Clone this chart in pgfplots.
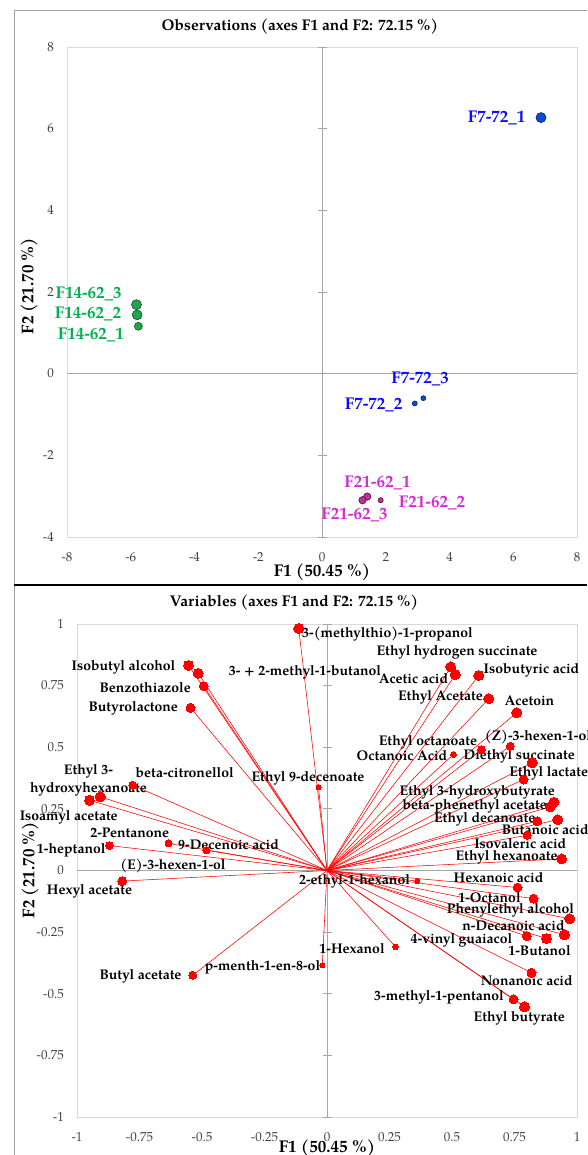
\documentclass[border=0pt]{standalone}
\usepackage{fontspec}
\setmainfont{TeX Gyre Pagella}
\usepackage{pgfplots}
\pgfplotsset{compat=1.18}
\usepackage{pgfplotstable}
\definecolor{framegray}{HTML}{D9D9D9}
\definecolor{zerogray}{HTML}{A6A6A6}
\definecolor{outergray}{HTML}{A0A0A0}
\definecolor{ticktext}{HTML}{404040}
\definecolor{gtext}{HTML}{00B050}
\definecolor{gfill}{HTML}{1FA64A}
\definecolor{gdraw}{HTML}{1A4D2A}
\definecolor{btext}{HTML}{0A0AFF}
\definecolor{bfill}{HTML}{0A4CD8}
\definecolor{bdraw}{HTML}{00206A}
\definecolor{mtext}{HTML}{D42AD4}
\definecolor{mfill}{HTML}{C0309A}
\definecolor{mdraw}{HTML}{501040}

% observations: x y r
\pgfplotstableread{
x y r
6.87 6.27 5.0
3.18 -0.60 2.5
2.91 -0.73 2.5
}\obsblue
\pgfplotstableread{
x y r
-5.82 1.69 5.0
-5.80 1.44 5.0
-5.76 1.16 4.0
}\obsgreen
\pgfplotstableread{
x y r
1.42 -3.01 3.7
1.27 -3.10 3.7
1.84 -3.10 2.6
}\obsmag

% variables: x y r
\pgfplotstableread{
x y r
-0.113 0.982 5
0.495 0.826 5
0.513 0.795 5
0.607 0.791 5
0.647 0.697 5
0.759 0.640 5
0.618 0.490 4
0.506 0.471 3
0.733 0.504 4
0.821 0.437 5
0.786 0.369 4.5
0.908 0.277 5
0.893 0.258 5
0.841 0.200 4.5
0.923 0.206 5
0.801 0.143 4
0.939 0.047 5
0.762 -0.069 4.5
0.361 -0.043 2.5
0.826 -0.114 4.5
0.971 -0.196 5
0.950 -0.261 5
0.799 -0.266 4.5
0.878 -0.276 5
0.818 -0.415 4.5
0.746 -0.523 4.5
0.790 -0.553 5
0.274 -0.310 2.8
-0.019 -0.385 2.5
-0.819 -0.043 4.5
-0.537 -0.425 4
-0.554 0.832 5
-0.515 0.800 5
-0.493 0.748 4.5
-0.546 0.660 4.5
-0.777 0.346 4
-0.950 0.285 5
-0.907 0.299 5
-0.634 0.110 3.5
-0.483 0.082 3.5
-0.870 0.101 4
-0.034 0.338 2.5
}\vars

\pgfplotsset{
  pcaaxis/.style={
    scale only axis, anchor=south west, clip=false,
    axis line style={framegray, line width=0.8pt},
    major tick length=0pt,
    tick label style={font=\fontsize{13}{15}\selectfont, text=ticktext, inner sep=0pt},
    yticklabel style={anchor=east, xshift=-13pt},
    xticklabel style={anchor=north, yshift=-15pt},
  },
  obsmarks/.style n args={2}{scatter, only marks, mark=*,
    scatter/use mapped color={draw=#2, fill=#1},
    mark options={line width=0.6pt},
    visualization depends on={\thisrow{r} \as \rr},
    scatter/@pre marker code/.append style={/tikz/mark size=\rr pt}},
}
\tikzset{
  olab/.style={font=\bfseries\fontsize{17}{19}\selectfont, inner sep=0pt},
  vlab/.style={font=\bfseries\fontsize{14}{16}\selectfont, inner sep=0pt, text=black},
  ttl/.style={font=\bfseries\fontsize{15.5}{18}\selectfont},
  alab/.style={font=\bfseries\fontsize{17}{19}\selectfont},
}

\begin{document}
\begin{tikzpicture}
\path[use as bounding box] (0pt,0pt) rectangle (587pt,1155pt);
% outer chart borders
\draw[outergray, line width=0.8pt] (14pt,0pt) -- (14pt,1145pt) -- (587pt,1145pt);
\draw[black, line width=2pt] (14pt,570pt) -- (587pt,570pt);

% ---------- Observations ----------
\begin{axis}[pcaaxis, at={(67pt,618pt)}, width=510pt, height=490pt,
  xmin=-8, xmax=8, ymin=-4, ymax=8,
  xtick={-8,-6,-4,-2,0,2,4,6,8}, xticklabels={-8,-6,-4,-2,0,2,4,6,8},
  ytick={-4,-2,0,2,4,6,8}, yticklabels={-4,-2,0,2,4,6,8}]
\draw[zerogray, line width=0.8pt] (axis cs:0,-4) -- (axis cs:0,8);
\draw[zerogray, line width=0.8pt] (axis cs:-8,0) -- (axis cs:8,0);
\pgfplotsinvokeforeach{-4,-2,2,4,6,8}{\draw[zerogray, line width=0.8pt] ([xshift=-4.5pt]axis cs:0,#1) -- ([xshift=4.5pt]axis cs:0,#1);}
\addplot[obsmarks={bfill}{bdraw}] table[x=x,y=y] {\obsblue};
\addplot[obsmarks={gfill}{gdraw}] table[x=x,y=y] {\obsgreen};
\addplot[obsmarks={mfill}{mdraw}] table[x=x,y=y] {\obsmag};
\node[olab, text=btext] at (axis cs:5.48,6.27) {F7-72\_1};
\node[olab, text=btext] at (axis cs:3.08,-0.14) {F7-72\_3};
\node[olab, text=btext] at (axis cs:1.62,-0.76) {F7-72\_2};
\node[olab, text=gtext] at (axis cs:-7.32,1.94) {F14-62\_3};
\node[olab, text=gtext] at (axis cs:-7.34,1.46) {F14-62\_2};
\node[olab, text=gtext] at (axis cs:-7.25,0.94) {F14-62\_1};
\node[olab, text=mtext] at (axis cs:1.74,-2.67) {F21-62\_1};
\node[olab, text=mtext] at (axis cs:3.45,-3.17) {F21-62\_2};
\node[olab, text=mtext] at (axis cs:1.02,-3.45) {F21-62\_3};
\end{axis}
\node[ttl] at (300pt,1128pt) {Observations (axes F1 and F2: 72.15 \%)};
\node[alab] at (322pt,583pt) {F1 (50.45 \%)};
\node[alab, rotate=90] at (29pt,869pt) {F2 (21.70 \%)};

% ---------- Variables ----------
\begin{axis}[pcaaxis, at={(77pt,38pt)}, width=500pt, height=493pt,
  xmin=-1, xmax=1, ymin=-1, ymax=1,
  xtick={-1,-0.75,-0.5,-0.25,0,0.25,0.5,0.75,1},
  xticklabels={-1,-0.75,-0.5,-0.25,0,0.25,0.5,0.75,1},
  ytick={-1,-0.75,-0.5,-0.25,0,0.25,0.5,0.75,1},
  yticklabels={-1,-0.75,-0.5,-0.25,0,0.25,0.5,0.75,1}]
\draw[zerogray, line width=0.8pt] (axis cs:0,-1) -- (axis cs:0,1);
\draw[zerogray, line width=0.8pt] (axis cs:-1,0) -- (axis cs:1,0);
\pgfplotsinvokeforeach{-1,-0.75,-0.5,-0.25,0.25,0.5,0.75,1}{\draw[zerogray, line width=0.8pt] ([xshift=-4.5pt]axis cs:0,#1) -- ([xshift=4.5pt]axis cs:0,#1);}
\addplot[red, line width=0.55pt, quiver={u=\thisrow{x}, v=\thisrow{y}}] table[x expr=0, y expr=0] {\vars};
\addplot[obsmarks={red}{red}, mark options={line width=0pt}] table[x=x,y=y] {\vars};
\node[vlab] at (axis cs:0.242,0.957) {3-(methylthio)-1-propanol};
\node[vlab] at (axis cs:0.520,0.887) {Ethyl hydrogen succinate};
\node[vlab] at (axis cs:0.346,0.778) {Acetic acid};
\node[vlab] at (axis cs:0.818,0.814) {Isobutyric acid};
\node[vlab] at (axis cs:0.454,0.702) {Ethyl Acetate};
\node[vlab] at (axis cs:0.810,0.688) {Acetoin};
\node[vlab] at (axis cs:0.404,0.518) {Ethyl octanoate};
\node[vlab] at (axis cs:0.300,0.465) {Octanoic Acid};
\node[vlab] at (axis cs:0.844,0.542) {(Z)-3-hexen-1-ol};
\node[vlab] at (axis cs:0.769,0.465) {Diethyl succinate};
\node[vlab] at (axis cs:0.887,0.396) {Ethyl lactate};
\node[vlab] at (axis cs:0.601,0.319) {Ethyl 3-hydroxybutyrate};
\node[vlab] at (axis cs:0.591,0.262) {beta-phenethyl acetate};
\node[vlab] at (axis cs:0.631,0.209) {Ethyl decanoate};
\node[vlab] at (axis cs:0.873,0.165) {Butanoic acid};
\node[vlab] at (axis cs:0.773,0.109) {Isovaleric acid};
\node[vlab] at (axis cs:0.718,0.052) {Ethyl hexanoate};
\node[vlab] at (axis cs:0.686,-0.030) {Hexanoic acid};
\node[vlab] at (axis cs:0.110,-0.045) {2-ethyl-1-hexanol};
\node[vlab] at (axis cs:0.650,-0.110) {1-Octanol};
\node[vlab] at (axis cs:0.734,-0.163) {Phenylethyl alcohol};
\node[vlab] at (axis cs:0.746,-0.225) {n-Decanoic acid};
\node[vlab] at (axis cs:0.538,-0.285) {4-vinyl guaiacol};
\node[vlab] at (axis cs:0.850,-0.326) {1-Butanol};
\node[vlab] at (axis cs:0.799,-0.445) {Nonanoic acid};
\node[vlab] at (axis cs:0.448,-0.513) {3-methyl-1-pentanol};
\node[vlab] at (axis cs:0.769,-0.599) {Ethyl butyrate};
\node[vlab] at (axis cs:0.100,-0.315) {1-Hexanol};
\node[vlab] at (axis cs:-0.258,-0.393) {p-menth-1-en-8-ol};
\node[vlab] at (axis cs:-0.950,-0.086) {Hexyl acetate};
\node[vlab] at (axis cs:-0.616,0.018) {(E)-3-hexen-1-ol};
\node[vlab] at (axis cs:-0.746,-0.431) {Butyl acetate};
\node[vlab] at (axis cs:-0.814,0.825) {Isobutyl alcohol};
\node[vlab] at (axis cs:-0.088,0.803) {3- + 2-methyl-1-butanol};
\node[vlab] at (axis cs:-0.727,0.742) {Benzothiazole};
\node[vlab] at (axis cs:-0.775,0.656) {Butyrolactone};
\node[vlab] at (axis cs:-0.569,0.399) {beta-citronellol};
\node[vlab, align=center, font=\bfseries\fontsize{14}{18}\selectfont] at (axis cs:-0.954,0.364) {Ethyl 3-\\hydroxyhexanoate};
\node[vlab] at (axis cs:-1.033,0.214) {Isoamyl acetate};
\node[vlab] at (axis cs:-0.789,0.151) {2-Pentanone};
\node[vlab] at (axis cs:-0.394,0.106) {9-Decenoic acid};
\node[vlab] at (axis cs:-1.023,0.083) {1-heptanol};
\node[vlab] at (axis cs:-0.076,0.372) {Ethyl 9-decenoate};
\end{axis}
\node[ttl] at (294pt,552pt) {Variables (axes F1 and F2: 72.15 \%)};
\node[alab] at (327pt,7pt) {F1 (50.45 \%)};
\node[alab, rotate=90] at (30pt,285pt) {F2 (21.70 \%)};
\end{tikzpicture}
\end{document}
